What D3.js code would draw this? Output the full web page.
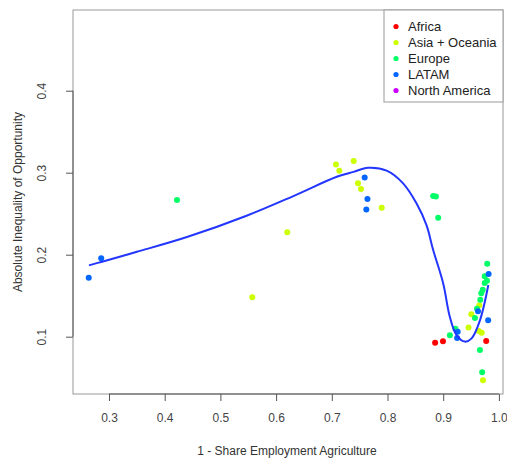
<!DOCTYPE html>
<html>
<head>
<meta charset="utf-8">
<style>
    body { margin: 0; background: #fff; }
    .axis text { font-family: 'Liberation Sans', Arial, sans-serif; font-size: 12px; fill: #444; }
    .axis path, .axis line { stroke: #555; }
    .title { font-family: 'Liberation Sans', Arial, sans-serif; font-size: 12px; fill: #333; }
    .legend text { font-family: 'Liberation Sans', Arial, sans-serif; font-size: 13px; fill: #222; }
</style>
</head>
<body>
<svg id="chart" width="507" height="459"></svg>
<script src="https://cdn.jsdelivr.net/npm/d3@7"></script>
<script>
    // regions and colours (R rainbow(5))
    var regions = ['Africa', 'Asia + Oceania', 'Europe', 'LATAM', 'North America'];
    var colors = ['#FF0000', '#CCFF00', '#00FF66', '#0066FF', '#CC00FF'];

    // points: [share non-agri, inequality]
    var africa = [[0.8855, 0.0927], [0.8996, 0.0944], [0.9772, 0.0948]];
    var asia = [[0.5573, 0.148], [0.620, 0.2273], [0.7075, 0.310], [0.7135, 0.3024],
                [0.7393, 0.3143], [0.747, 0.287], [0.7524, 0.280], [0.7896, 0.2573],
                [0.9648, 0.1383], [0.9505, 0.1273], [0.9454, 0.1112], [0.9637, 0.107],
                [0.9691, 0.1049], [0.9714, 0.0468]];
    var europe = [[0.422, 0.2667], [0.882, 0.2716], [0.887, 0.271], [0.891, 0.245],
                  [0.912, 0.1017], [0.922, 0.1098], [0.957, 0.1228], [0.9607, 0.1341],
                  [0.9666, 0.1451], [0.9684, 0.1529], [0.971, 0.1573], [0.9745, 0.1655],
                  [0.9786, 0.1683], [0.9745, 0.1737], [0.979, 0.189], [0.966, 0.0838],
                  [0.970, 0.0567]];
    var latam = [[0.2636, 0.172], [0.286, 0.1956], [0.759, 0.294], [0.764, 0.268],
                 [0.762, 0.255], [0.9815, 0.1765], [0.9625, 0.131], [0.9807, 0.120],
                 [0.926, 0.106], [0.925, 0.0985]];
    var northAmerica = [];
    var groups = [africa, asia, europe, latam, northAmerica];

    // fitted curve
    var curveX = [0.264, 0.286, 0.35, 0.44, 0.547, 0.631, 0.709, 0.739, 0.765, 0.7985,
                  0.828, 0.852, 0.870, 0.882, 0.900, 0.912, 0.924, 0.939, 0.951, 0.966, 0.981];
    var curveY = [0.187, 0.1912, 0.2035, 0.2215, 0.2475, 0.2715, 0.295, 0.301, 0.306, 0.3025,
                  0.287, 0.2627, 0.236, 0.2057, 0.165, 0.124, 0.102, 0.094, 0.098, 0.120, 0.163];

    var xTicks = [0.3, 0.4, 0.5, 0.6, 0.7, 0.8, 0.9, 1.0];
    var yTicks = [0.1, 0.2, 0.3, 0.4];

    var pLeft = 73, pRight = 503, pTop = 10, pBottom = 394;

    var svg = d3.select('#chart');
    var x = d3.scaleLinear().domain([0.23537, 1.00736]).range([pLeft, pRight]);
    var y = d3.scaleLinear().domain([0.03012, 0.49841]).range([pBottom, pTop]);

    // box
    svg.append('rect')
        .attr('x', pLeft).attr('y', pTop)
        .attr('width', pRight - pLeft).attr('height', pBottom - pTop)
        .attr('fill', 'none').attr('stroke', '#999');

    // axes
    var xAxis = d3.axisBottom(x).tickValues(xTicks).tickSize(7).tickPadding(12)
        .tickFormat(d3.format('.1f'));
    var gx = svg.append('g').attr('class', 'axis')
        .attr('transform', 'translate(0,' + pBottom + ')')
        .call(xAxis);
    gx.select('.domain').attr('d', 'M' + x(0.3) + ',0H' + x(1.0));

    var yAxis = d3.axisLeft(y).tickValues(yTicks).tickSize(7).tickFormat(d3.format('.1f'));
    var gy = svg.append('g').attr('class', 'axis')
        .attr('transform', 'translate(' + pLeft + ',0)')
        .call(yAxis);
    gy.select('.domain').attr('d', 'M0,' + y(0.1) + 'V' + y(0.4));
    gy.selectAll('.tick text')
        .attr('x', 0).attr('dy', 0)
        .attr('transform', 'translate(-27,0) rotate(-90)')
        .style('text-anchor', 'middle');

    // axis titles
    svg.append('text').attr('class', 'title')
        .attr('x', (pLeft + pRight) / 2 - 1).attr('y', 455)
        .style('text-anchor', 'middle')
        .text('1 - Share Employment Agriculture');
    svg.append('text').attr('class', 'title')
        .attr('transform', 'translate(22,' + ((pTop + pBottom) / 2) + ') rotate(-90)')
        .style('text-anchor', 'middle')
        .text('Absolute Inequality of Opportunity');

    // points
    groups.forEach(function(pts, i) {
        svg.append('g').selectAll('circle')
            .data(pts).enter().append('circle')
            .attr('cx', function(d) { return x(d[0]); })
            .attr('cy', function(d) { return y(d[1]); })
            .attr('r', 3)
            .attr('fill', colors[i]);
    });

    // fitted line
    var line = d3.line().curve(d3.curveCatmullRom.alpha(0.5))
        .x(function(d) { return x(d[0]); })
        .y(function(d) { return y(d[1]); });
    svg.append('path')
        .datum(curveX.map(function(v, i) { return [v, curveY[i]]; }))
        .attr('d', line)
        .attr('fill', 'none')
        .attr('stroke', '#2236ff')
        .attr('stroke-width', 2);

    // legend
    var lg = svg.append('g').attr('class', 'legend');
    lg.append('rect')
        .attr('x', 384).attr('y', pTop)
        .attr('width', pRight - 384).attr('height', 92)
        .attr('fill', '#fff').attr('stroke', '#999');
    regions.forEach(function(r, i) {
        var cy = 26.5 + i * 16;
        lg.append('circle').attr('cx', 396).attr('cy', cy).attr('r', 2.6).attr('fill', colors[i]);
        lg.append('text').attr('x', 408).attr('y', cy + 4.5).text(r);
    });
</script>
</body>
</html>
